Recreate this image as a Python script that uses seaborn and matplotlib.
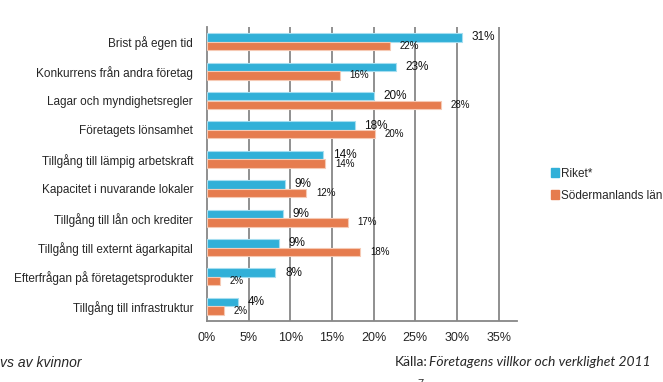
import matplotlib
matplotlib.use("Agg")
import matplotlib.pyplot as plt
import seaborn as sns
import pandas as pd

# data (percent)
categories = [
    "Brist på egen tid",
    "Konkurrens från andra företag",
    "Lagar och myndighetsregler",
    "Företagets lönsamhet",
    "Tillgång till lämpig arbetskraft",
    "Kapacitet i nuvarande lokaler",
    "Tillgång till lån och krediter",
    "Tillgång till externt ägarkapital",
    "Efterfrågan på företagetsprodukter",
    "Tillgång till infrastruktur",
]
riket = [30.6, 22.7, 20.0, 17.7, 13.9, 9.3, 9.1, 8.6, 8.2, 3.7]
sodermanland = [21.9, 15.9, 28.1, 20.1, 14.2, 11.9, 16.9, 18.4, 1.6, 2.0]
series = ["Riket*", "Södermanlands län"]
xticks = [0, 5, 10, 15, 20, 25, 30, 35]

df = pd.DataFrame({
    "kategori": categories * 2,
    "andel": riket + sodermanland,
    "serie": [series[0]] * len(categories) + [series[1]] * len(categories),
})

sns.set_style("white")
plt.rcParams["font.family"] = ["Liberation Sans", "DejaVu Sans"]

BLUE = "#31B0D8"
ORANGE = "#E67C4E"
GRID = "#878787"

fig = plt.figure(figsize=(6.63, 3.82), dpi=100)
ax = fig.add_axes([207 / 663, 1 - 321 / 382, 310 / 663, 294 / 382])

sns.barplot(data=df, y="kategori", x="andel", hue="serie", orient="h",
            palette=[BLUE, ORANGE], width=0.58, ax=ax, legend=False,
            saturation=1, zorder=3)

# lighter outline round the bars
for cont, ec in zip(ax.containers, ["#a6def0", "#f6c9b4"]):
    for p in cont:
        p.set_edgecolor(ec)
        p.set_linewidth(0.8)

ax.bar_label(ax.containers[0], labels=[f"{round(v)}%" for v in riket],
             padding=7, fontsize=8.5, color="#111111")
ax.bar_label(ax.containers[1], labels=[f"{round(v)}%" for v in sodermanland],
             padding=7, fontsize=7, color="#111111")

ax.set_xlim(0, 37.2)
ax.set_ylim(len(categories) - 0.5, -0.5)
ax.set_xticks(xticks)
ax.set_xticklabels([f"{t}%" for t in xticks], fontsize=9)
ax.tick_params(axis="x", length=0, pad=8)
ax.tick_params(axis="y", length=0, pad=10, labelsize=8.5)
ax.set_yticks([i + 0.5 for i in range(-1, len(categories))], minor=True)
ax.tick_params(axis="y", which="minor", length=5, color=GRID, width=1.2, direction="out")
ax.set_xlabel("")
ax.set_ylabel("")

for x in xticks[1:]:
    ax.axvline(x, color=GRID, lw=1.3, zorder=1)
for s in ["top", "right"]:
    ax.spines[s].set_visible(False)
for s in ["left", "bottom"]:
    ax.spines[s].set_color(GRID)
    ax.spines[s].set_linewidth(1.3)

# legend
handles = [plt.Rectangle((0, 0), 1, 1, color=c) for c in [BLUE, ORANGE]]
fig.legend(handles, series, loc="upper left",
           bbox_to_anchor=(546 / 663, 1 - 163 / 382), frameon=False,
           fontsize=8.5, handlelength=0.7, handleheight=0.7,
           handletextpad=0.2, labelspacing=0.85, borderaxespad=0)

# footer texts
fig.text(0, 1 - 363 / 382, "vs av kvinnor", fontsize=10, style="italic",
         va="center", ha="left")
fig.text(395 / 663, 1 - 362 / 382, "Källa:", fontsize=10, va="center",
         ha="left", family=["Lato", "DejaVu Sans"])
fig.text(429 / 663, 1 - 362 / 382, "Företagens villkor och verklighet 2011",
         fontsize=10, va="center", ha="left", style="italic",
         family=["Lato", "DejaVu Sans"])
fig.text(417 / 663, 1 - 379 / 382, "7", fontsize=8, va="top", ha="left")

fig.savefig("out.png", dpi=100)
